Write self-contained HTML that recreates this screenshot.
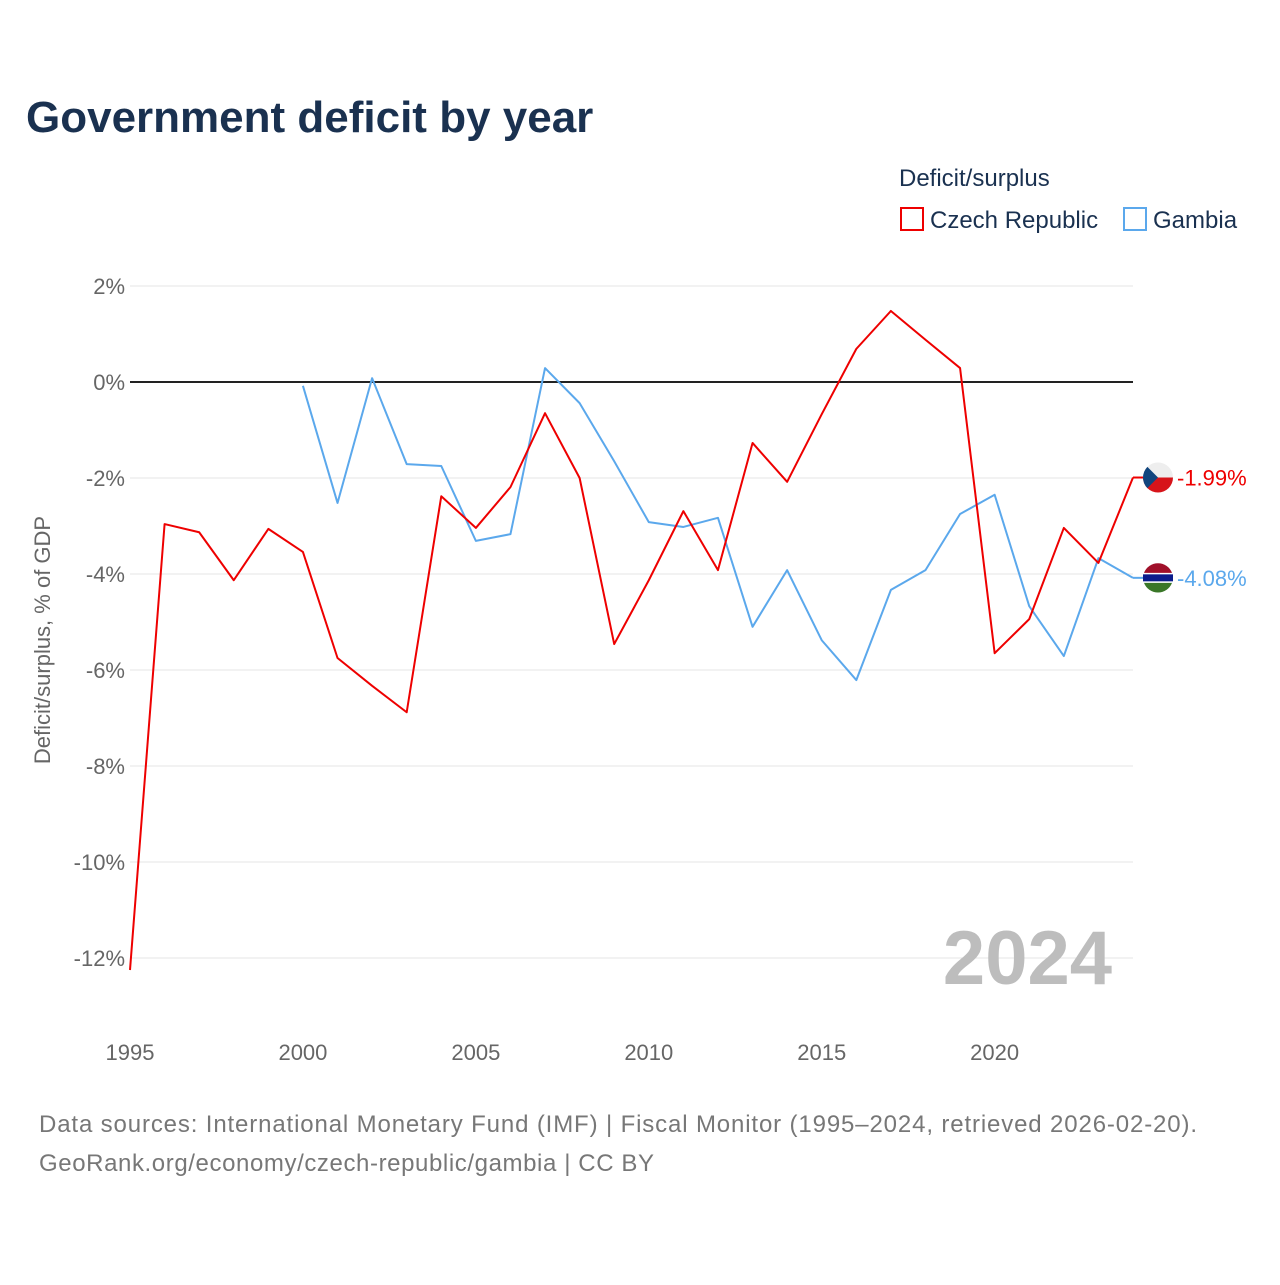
<!DOCTYPE html>
<html><head><meta charset="utf-8">
<style>
html,body{margin:0;padding:0;background:#fff;}
body{width:1280px;height:1280px;position:relative;font-family:"Liberation Sans","DejaVu Sans",sans-serif;overflow:hidden;}
svg text{font-family:"Liberation Sans","DejaVu Sans",sans-serif;}
</style></head>
<body>
<svg id="chart" width="1280" height="1280" xmlns="http://www.w3.org/2000/svg">
<text x="26" y="132" font-size="44" font-weight="bold" fill="#1a3150">Government deficit by year</text>
<text x="899" y="186" font-size="24" fill="#1a3150">Deficit/surplus</text>
<rect x="901" y="208" width="22" height="22" fill="none" stroke="#ee0000" stroke-width="2"/>
<text x="930" y="228" font-size="24" fill="#1a3150">Czech Republic</text>
<rect x="1124" y="208" width="22" height="22" fill="none" stroke="#5ba8ec" stroke-width="2"/>
<text x="1153" y="228" font-size="24" fill="#1a3150">Gambia</text>
<g id="grid"></g>
<text transform="translate(50,640) rotate(-90)" text-anchor="middle" font-size="22" fill="#666">Deficit/surplus, % of GDP</text>
<text x="1112" y="984" text-anchor="end" font-size="76" font-weight="bold" fill="#bdbdbd">2024</text>
<g id="series"></g>
<text x="39" y="1132" font-size="24" fill="#777" textLength="1158" lengthAdjust="spacing">Data sources: International Monetary Fund (IMF) | Fiscal Monitor (1995–2024, retrieved 2026-02-20).</text>
<text x="39" y="1171" font-size="24" fill="#777" textLength="615" lengthAdjust="spacing">GeoRank.org/economy/czech-republic/gambia | CC BY</text>
</svg>
<script>
const czechYears=[1995,1996,1997,1998,1999,2000,2001,2002,2003,2004,2005,2006,2007,2008,2009,2010,2011,2012,2013,2014,2015,2016,2017,2018,2019,2020,2021,2022,2023,2024];
const czechValues=[-12.25,-2.96,-3.13,-4.13,-3.06,-3.54,-5.75,-6.33,-6.88,-2.38,-3.04,-2.19,-0.65,-2.0,-5.46,-4.13,-2.69,-3.92,-1.27,-2.08,-0.67,0.69,1.48,0.88,0.29,-5.65,-4.94,-3.04,-3.77,-1.99];
const gambiaYears=[2000,2001,2002,2003,2004,2005,2006,2007,2008,2009,2010,2011,2012,2013,2014,2015,2016,2017,2018,2019,2020,2021,2022,2023,2024];
const gambiaValues=[-0.08,-2.52,0.08,-1.71,-1.75,-3.31,-3.17,0.29,-0.44,-1.65,-2.92,-3.02,-2.83,-5.1,-3.92,-5.38,-6.21,-4.33,-3.92,-2.75,-2.35,-4.67,-5.71,-3.67,-4.08];
const yTicks=[2,0,-2,-4,-6,-8,-10,-12];
const yTickLabels=["2%","0%","-2%","-4%","-6%","-8%","-10%","-12%"];
const xTicks=[1995,2000,2005,2010,2015,2020];

const NS="http://www.w3.org/2000/svg";
const X0=130,X1=1133,Y0=382,PPU=48;
function xs(yr){return X0+(yr-1995)*(X1-X0)/(2024-1995);}
function ys(v){return Y0-v*PPU;}
function mk(tag,attrs,parent){const e=document.createElementNS(NS,tag);for(const k in attrs)e.setAttribute(k,attrs[k]);parent.appendChild(e);return e;}
const grid=document.getElementById('grid');
yTicks.forEach((t,i)=>{
  const l=mk('line',{x1:X0,x2:X1,y1:ys(t),y2:ys(t),stroke:t===0?'#222':'#e4e4e4','stroke-width':t===0?2:1},grid);
  
  
  const tx=mk('text',{x:125,y:ys(t)+8,'text-anchor':'end','font-size':22,fill:'#666'},grid);
  tx.textContent=yTickLabels[i];
  
  
});
xTicks.forEach(t=>{
  const tx=mk('text',{x:xs(t),y:1060,'text-anchor':'middle','font-size':22,fill:'#666'},grid);
  tx.textContent=t;
  
  
});
const ser=document.getElementById('series');
function line(years,vals,color,name){
  const p=mk('polyline',{points:years.map((y,i)=>xs(y)+','+ys(vals[i])).join(' '),fill:'none',stroke:color,'stroke-width':2,'stroke-linejoin':'round'},ser);
  
  
}
line(gambiaYears,gambiaValues,'#5ba8ec','gambia-line');
line(czechYears,czechValues,'#ee0000','czech-line');
function endLabel(years,vals,color,name,flag){
  const y=ys(vals[vals.length-1]),x=xs(years[years.length-1]);
  const c=mk('line',{x1:x,x2:x+12,y1:y,y2:y,stroke:color,'stroke-width':2},ser);
  
  
  const g=mk('g',{},ser);
  
  
  flag(g,1158,y);
  const t=mk('text',{x:1177,y:y+8,'font-size':22,fill:color},ser);
  t.textContent=vals[vals.length-1].toFixed(2)+'%';
  
  
}
endLabel(czechYears,czechValues,'#ee0000','czech',(g,cx,cy)=>{
  mk('circle',{cx,cy,r:15,fill:'#eee'},g);
  mk('path',{d:`M${cx-15},${cy} A15,15 0 0 0 ${cx+15},${cy} Z`,fill:'#d7141a'},g);
  mk('path',{d:`M${cx-10.6},${cy-10.6} L${cx},${cy} L${cx-10.6},${cy+10.6} A15,15 0 0 1 ${cx-10.6},${cy-10.6} Z`,fill:'#11457e'},g);
});
endLabel(gambiaYears,gambiaValues,'#5ba8ec','gambia',(g,cx,cy)=>{
  mk('circle',{cx,cy,r:15,fill:'#fff'},g);
  mk('path',{d:`M${cx-14},${cy-5} A15,15 0 0 1 ${cx+14},${cy-5} Z`,fill:'#a0102a'},g);
  mk('path',{d:`M${cx-14},${cy+5} A15,15 0 0 0 ${cx+14},${cy+5} Z`,fill:'#3a7728'},g);
  mk('rect',{x:cx-15,y:cy-3.5,width:30,height:7,fill:'#0c1c8c'},g);
});
</script>
</body></html>
